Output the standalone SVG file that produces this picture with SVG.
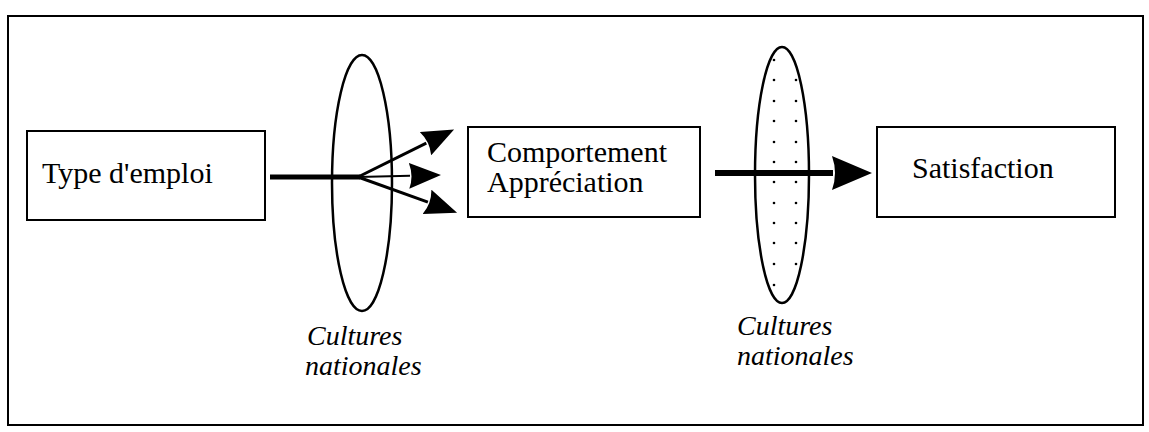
<svg xmlns="http://www.w3.org/2000/svg" width="1149" height="432" viewBox="0 0 1149 432">
<style>
.box{fill:#fff;stroke:#000;stroke-width:2}
.lbl{font-family:"Liberation Serif","Times New Roman",serif;font-size:30px;fill:#000}
.cult{font-family:"Liberation Serif","Times New Roman",serif;font-size:28px;font-style:italic;fill:#000}
.ell{fill:none;stroke:#000;stroke-width:2.5}
.dot{fill:#000}
</style>
<defs>
<marker id="headS" markerUnits="userSpaceOnUse" markerWidth="32" markerHeight="26" viewBox="0 0 32 26" refX="1" refY="13" orient="auto">
<path d="M0,0 L32,13 L0,26 Q5,13 0,0 z" fill="#000"/>
</marker>
<marker id="headL" markerUnits="userSpaceOnUse" markerWidth="40" markerHeight="34" viewBox="0 0 40 34" refX="1" refY="17" orient="auto">
<path d="M0,0 L40,17 L0,34 Q6,17 0,0 z" fill="#000"/>
</marker>
</defs>
<rect x="0" y="0" width="1149" height="432" fill="#fff"/>
<rect id="frame" x="8" y="16" width="1135" height="409" fill="none" stroke="#000" stroke-width="2"/>

<g id="culture1">
<ellipse class="ell" cx="362" cy="183" rx="30" ry="128"/>
<text class="cult" x="307" y="345">Cultures</text>
<text class="cult" x="305" y="375">nationales</text>
</g>

<g id="culture2">
<ellipse class="ell" cx="782" cy="175" rx="27" ry="128"/>
<g class="dot">
<circle cx="774" cy="60" r="1.3"/>
<circle cx="774" cy="80" r="1.3"/><circle cx="796" cy="80" r="1.3"/>
<circle cx="774" cy="101" r="1.3"/><circle cx="796" cy="101" r="1.3"/>
<circle cx="774" cy="121" r="1.3"/><circle cx="796" cy="121" r="1.3"/>
<circle cx="774" cy="142" r="1.3"/><circle cx="796" cy="142" r="1.3"/>
<circle cx="774" cy="162" r="1.3"/><circle cx="796" cy="162" r="1.3"/>
<circle cx="774" cy="182" r="1.3"/><circle cx="796" cy="182" r="1.3"/>
<circle cx="774" cy="203" r="1.3"/><circle cx="796" cy="203" r="1.3"/>
<circle cx="774" cy="223" r="1.3"/><circle cx="796" cy="223" r="1.3"/>
<circle cx="774" cy="243" r="1.3"/><circle cx="796" cy="243" r="1.3"/>
<circle cx="774" cy="264" r="1.3"/><circle cx="796" cy="264" r="1.3"/>
<circle cx="774" cy="285" r="1.3"/>
</g>
<text class="cult" x="737" y="335">Cultures</text>
<text class="cult" x="737" y="365">nationales</text>
</g>

<g id="connectors" stroke="#000" fill="none">
<line x1="270" y1="177" x2="360" y2="177" stroke-width="5"/>
<line x1="358" y1="177" x2="426.3" y2="143.2" stroke-width="3" marker-end="url(#headS)"/>
<line x1="358" y1="177" x2="410" y2="175.8" stroke-width="2" marker-end="url(#headS)"/>
<line x1="358" y1="177" x2="427.9" y2="202.2" stroke-width="3" marker-end="url(#headS)"/>
<line x1="715" y1="173" x2="833" y2="173" stroke-width="6" marker-end="url(#headL)"/>
</g>

<g id="typeEmploi">
<rect class="box" x="27" y="131" width="238" height="89"/>
<text class="lbl" x="42" y="183">Type d'emploi</text>
</g>

<g id="comportement">
<rect class="box" x="468" y="127" width="232" height="90"/>
<text class="lbl" x="487" y="162">Comportement</text>
<text class="lbl" x="487" y="192">Appréciation</text>
</g>

<g id="satisfaction">
<rect class="box" x="877" y="127" width="238" height="90"/>
<text class="lbl" x="912" y="178">Satisfaction</text>
</g>
</svg>
